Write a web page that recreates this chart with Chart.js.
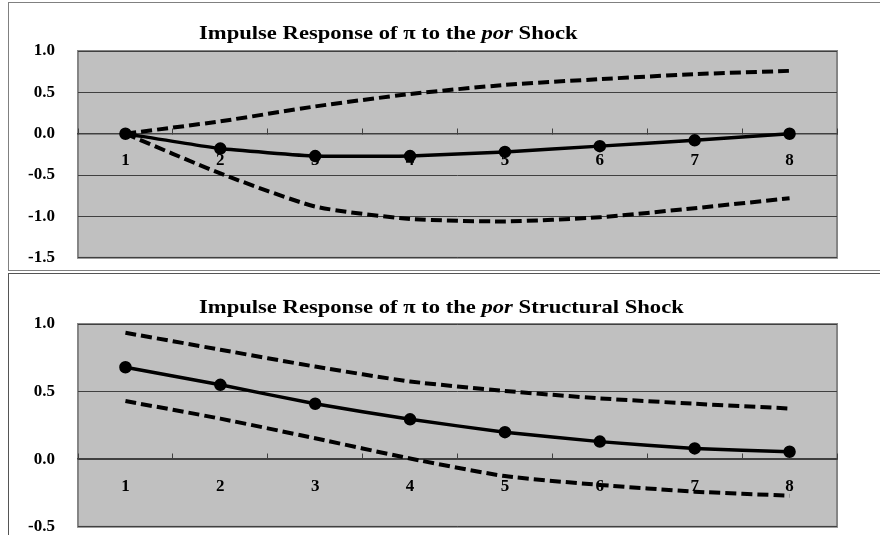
<!DOCTYPE html>
<html>
<head>
<meta charset="utf-8">
<script src="https://cdn.jsdelivr.net/npm/chart.js@4.4.1/dist/chart.umd.min.js"></script>
<style>
  body { margin: 0; background: #fff; }
  #wrap { position: relative; width: 880px; height: 535px; overflow: hidden; }
  .box { position: absolute; left: 8px; width: 900px; border: 1px solid #808080; }
  #box1 { top: 2px; height: 267px; }
  #box2 { top: 273px; height: 270px; border-color: #555; }
  canvas { position: absolute; left: 0; }
  .title { position: absolute; left: 199px; font: bold 19px "Liberation Serif", "Times New Roman", serif; line-height: 19px; color: #000; white-space: nowrap; transform: scaleX(1.19); transform-origin: 0 0; }
</style>
</head>
<body>
<div id="wrap">
  <div class="box" id="box1"></div>
  <div class="box" id="box2"></div>
  <canvas id="chart1" width="880" height="291" style="top:0"></canvas>
  <canvas id="chart2" width="880" height="288" style="top:272px"></canvas>
  <div class="title" style="top:23px">Impulse Response of π to the <i>por</i> Shock</div>
  <div class="title" style="top:297px">Impulse Response of π to the <i>por</i> Structural Shock</div>
</div>
<script>
const periods = ['1', '2', '3', '4', '5', '6', '7', '8'];

// impulse response of pi to the por shock
const shockResponse = [0, -0.18, -0.27, -0.27, -0.22, -0.15, -0.08, 0];
const shockUpper = [0, 0.15, 0.33, 0.48, 0.59, 0.66, 0.72, 0.76];
const shockLower = [0, -0.48, -0.88, -1.03, -1.06, -1.01, -0.9, -0.78];

// impulse response of pi to the por structural shock
const structResponse = [0.68, 0.55, 0.41, 0.295, 0.2, 0.13, 0.08, 0.055];
const structUpper = [0.935, 0.81, 0.685, 0.575, 0.505, 0.45, 0.41, 0.375];
const structLower = [0.43, 0.30, 0.155, 0.005, -0.125, -0.19, -0.24, -0.27];

const tickFont = { family: '"Liberation Serif", "Times New Roman", serif', size: 17, weight: 'bold' };

const plotArea = {
    id: 'plotArea',
    beforeDraw(chart) {
        const { ctx, chartArea: a } = chart;
        ctx.save();
        ctx.fillStyle = '#c0c0c0';
        ctx.fillRect(a.left, a.top, a.width, a.height);
        ctx.strokeStyle = '#858585';
        ctx.lineWidth = 2;
        ctx.strokeRect(a.left, a.top, a.width, a.height);
        ctx.restore();
    }
};

function makeChart(id, response, upper, lower, yMin, padding) {
    const dashed = (data) => ({
        data: data,
        borderColor: '#000',
        borderWidth: 4,
        borderDash: [11, 5],
        pointRadius: 0,
        tension: 0.2,
        fill: false
    });
    return new Chart(document.getElementById(id), {
        type: 'line',
        data: {
            labels: periods,
            datasets: [
                {
                    data: response,
                    borderColor: '#000',
                    borderWidth: 3.5,
                    pointRadius: 4.5,
                    pointBackgroundColor: '#000',
                    pointBorderColor: '#000',
                    tension: 0.12,
                    fill: false
                },
                dashed(upper),
                dashed(lower)
            ]
        },
        options: {
            responsive: false,
            animation: false,
            layout: { padding: padding },
            plugins: {
                legend: { display: false },
                tooltip: { enabled: false }
            },
            scales: {
                x: {
                    type: 'category',
                    position: { y: 0 },
                    offset: true,
                    afterFit: (s) => { s.height = 0; },
                    grid: {
                        display: true,
                        drawOnChartArea: false,
                        drawTicks: true,
                        tickLength: -6,
                        offset: true,
                        color: '#404040'
                    },
                    border: { display: true, color: '#404040', width: 1.5 },
                    ticks: { font: tickFont, color: '#000', padding: 23, maxRotation: 0 }
                },
                y: {
                    min: yMin,
                    max: 1.0,
                    afterFit: (s) => { s.width = 78; },
                    grid: { color: '#404040', lineWidth: 1, drawTicks: false },
                    border: { display: false },
                    ticks: {
                        stepSize: 0.5,
                        padding: 23,
                        font: tickFont,
                        color: '#000',
                        callback: (v) => v.toFixed(1)
                    }
                }
            }
        },
        plugins: [plotArea]
    });
}

makeChart('chart1', shockResponse, shockUpper, shockLower, -1.5, { left: 0, right: 43, top: 51, bottom: 0 });
makeChart('chart2', structResponse, structUpper, structLower, -0.5, { left: 0, right: 43, top: 52, bottom: 0 });
</script>
</body>
</html>
